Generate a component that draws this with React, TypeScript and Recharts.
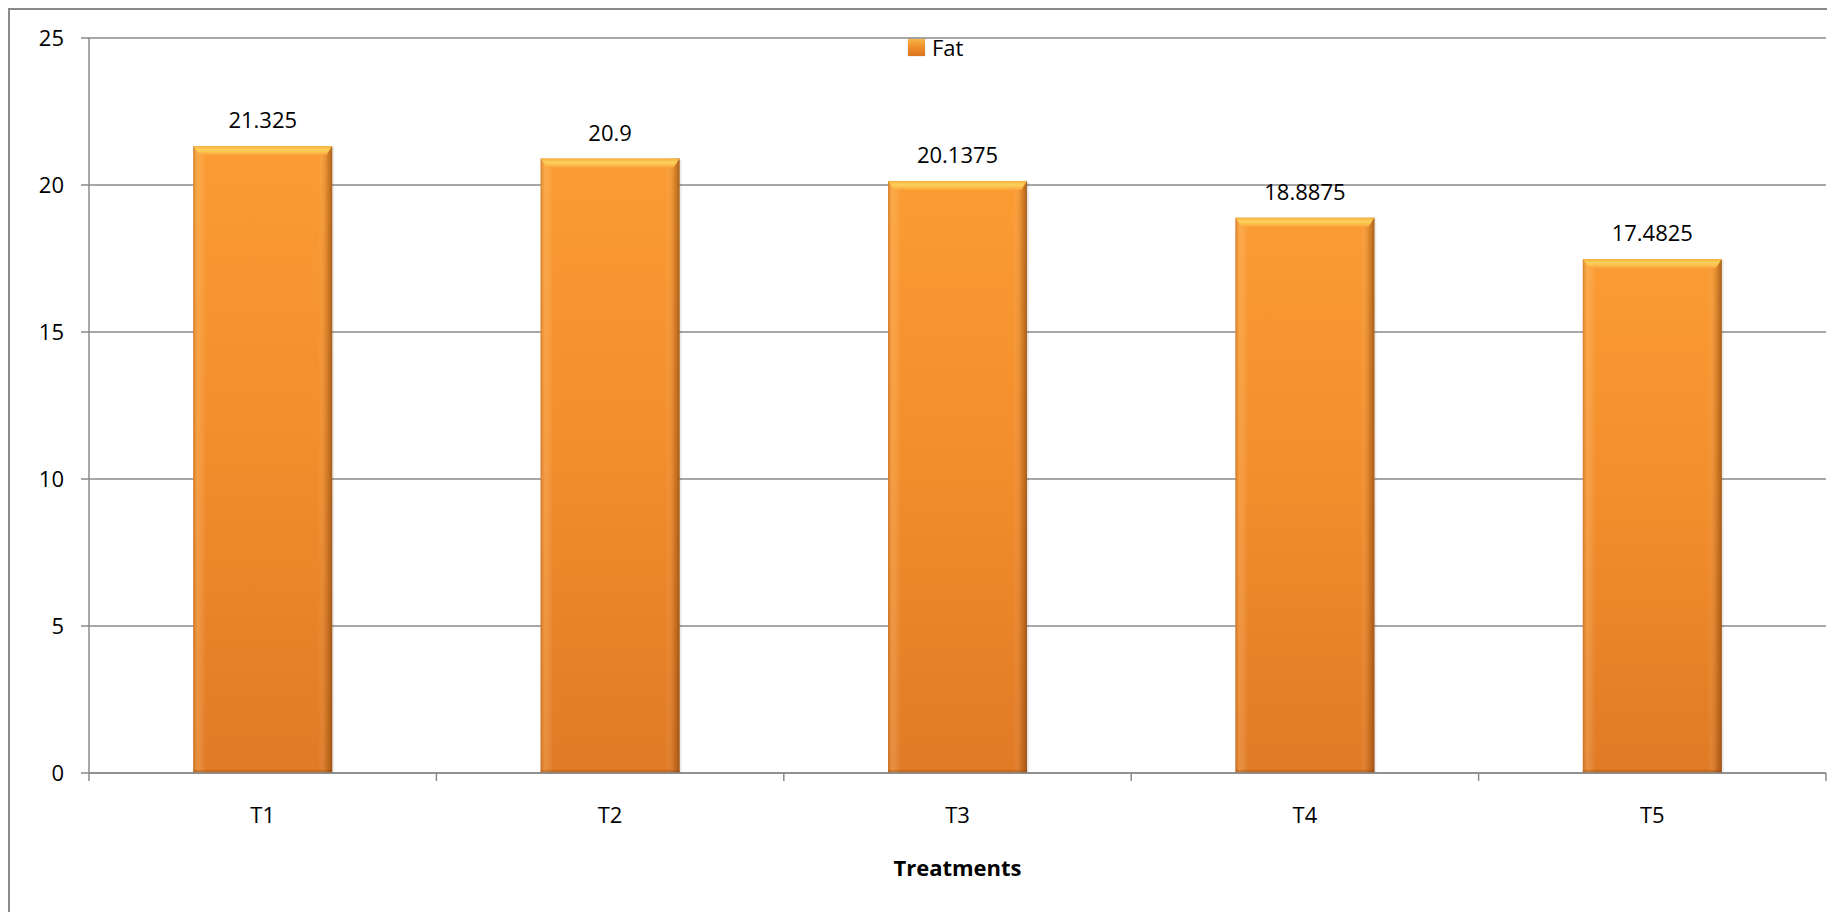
import React from "react"
import { BarChart, Bar, XAxis, YAxis, CartesianGrid, Legend, LabelList } from "recharts"

// data
const treatments = ["T1", "T2", "T3", "T4", "T5"]
const fatValues = [21.325, 20.9, 20.1375, 18.8875, 17.4825]
const yTicks = [0, 5, 10, 15, 20, 25]

const data = treatments.map((name, i) => ({ name, Fat: fatValues[i] }))

const CHART_W = 1825
const CHART_H = 902
const MARGIN = { top: 28, right: 9, left: 19, bottom: 0 }
const Y_W = 60
const X_H = 139
const TICK_SIZE = 8
const TICK_MARGIN = 26
const GRID = "#8a8a8a"
const FONT = 22

const PLOT_W = CHART_W - MARGIN.left - MARGIN.right - Y_W
const HALF_BAND = PLOT_W / treatments.length / 2

// x tick: label in the middle of the band, small tick marks on band edges
const XTick = (props: any) => {
    const { x, y, payload, index } = props
    const axisY = y - TICK_SIZE - TICK_MARGIN
    return (
        <g>
            {index === 0 && (
                <line x1={x - HALF_BAND} x2={x - HALF_BAND} y1={axisY} y2={axisY + TICK_SIZE} stroke={GRID} strokeWidth={1.5} />
            )}
            <line x1={x + HALF_BAND} x2={x + HALF_BAND} y1={axisY} y2={axisY + TICK_SIZE} stroke={GRID} strokeWidth={1.5} />
            <text x={x} y={y} dy="0.71em" textAnchor="middle" fontSize={FONT} fill="#000">
                {payload.value}
            </text>
        </g>
    )
}

const BarShape = (props: any) => {
    const { x, y, width, height } = props
    if (!height || height <= 0) return null
    const bevel = Math.min(9, height)
    return (
        <g>
            <rect x={x + 2} y={y + 1} width={width} height={height} fill="rgba(0,0,0,0.08)" />
            <rect x={x} y={y} width={width} height={height} fill="url(#fatBody)" />
            <rect x={x} y={y} width={width} height={height} fill="url(#fatSides)" />
            <polygon
                points={`${x},${y} ${x + width},${y} ${x + width - 6},${y + bevel} ${x + 6},${y + bevel}`}
                fill="url(#fatTop)"
            />
            <rect x={x} y={height > 4 ? y + height - 3 : y} width={width} height={Math.min(3, height)} fill="rgba(120,60,10,0.25)" />
        </g>
    )
}

const LegendContent = () => (
    <div style={{ display: "flex", alignItems: "center", fontSize: FONT, lineHeight: "22px" }}>
        <span
            style={{
                display: "inline-block",
                width: 17,
                height: 17,
                marginRight: 7,
                background: "linear-gradient(#f9b548, #f0902c 45%, #d9731f)",
                boxShadow: "0 0 1px rgba(0,0,0,0.3)",
            }}
        />
        <span>Fat</span>
    </div>
)

export default function App() {
    return (
        <div
            style={{
                width: CHART_W,
                height: CHART_H,
                borderLeft: `2px solid ${GRID}`,
                borderTop: `2px solid ${GRID}`,
                fontFamily: "'Open Sans', sans-serif",
                position: "relative",
            }}
        >
            <svg width={0} height={0} style={{ position: "absolute" }}>
                <defs>
                    <linearGradient id="fatBody" x1="0" y1="0" x2="0" y2="1">
                        <stop offset="0%" stopColor="#fb9c33" />
                        <stop offset="50%" stopColor="#f28d2c" />
                        <stop offset="100%" stopColor="#e07a25" />
                    </linearGradient>
                    <linearGradient id="fatSides" x1="0" y1="0" x2="1" y2="0">
                        <stop offset="0%" stopColor="#a85a1c" stopOpacity={0.45} />
                        <stop offset="3%" stopColor="#ffd08a" stopOpacity={0.25} />
                        <stop offset="9%" stopColor="#ffffff" stopOpacity={0} />
                        <stop offset="90%" stopColor="#ffffff" stopOpacity={0} />
                        <stop offset="96%" stopColor="#8a4a14" stopOpacity={0.25} />
                        <stop offset="100%" stopColor="#6e3a10" stopOpacity={0.6} />
                    </linearGradient>
                    <linearGradient id="fatTop" x1="0" y1="0" x2="0" y2="1">
                        <stop offset="0%" stopColor="#f5b03e" />
                        <stop offset="45%" stopColor="#fcd25c" />
                        <stop offset="100%" stopColor="#fba53a" />
                    </linearGradient>
                </defs>
            </svg>
            <BarChart width={CHART_W} height={CHART_H} data={data} margin={MARGIN} barCategoryGap="30%">
                <CartesianGrid vertical={false} stroke={GRID} strokeWidth={1.5} />
                <XAxis
                    dataKey="name"
                    height={X_H}
                    axisLine={{ stroke: GRID, strokeWidth: 1.5 }}
                    tickLine={false}
                    tickSize={TICK_SIZE}
                    tickMargin={TICK_MARGIN}
                    tick={<XTick />}
                    interval={0}
                    label={{
                        value: "Treatments",
                        position: "insideBottom",
                        offset: 36,
                        fontSize: FONT,
                        fontWeight: "bold",
                        fill: "#000",
                    }}
                />
                <YAxis
                    width={Y_W}
                    domain={[0, 25]}
                    ticks={yTicks}
                    axisLine={{ stroke: GRID, strokeWidth: 1.5 }}
                    tickLine={{ stroke: GRID, strokeWidth: 1.5 }}
                    tickSize={TICK_SIZE}
                    tickMargin={17}
                    tick={{ fontSize: FONT, fill: "#000" }}
                />
                <Legend
                    layout="horizontal"
                    verticalAlign="middle"
                    align="center"
                    content={<LegendContent />}
                    wrapperStyle={{ top: 26, left: 898, width: "auto", height: "auto" }}
                />
                <Bar dataKey="Fat" shape={<BarShape />} isAnimationActive={false}>
                    <LabelList dataKey="Fat" position="top" offset={18} fontSize={FONT} fill="#000" />
                </Bar>
            </BarChart>
        </div>
    )
}
